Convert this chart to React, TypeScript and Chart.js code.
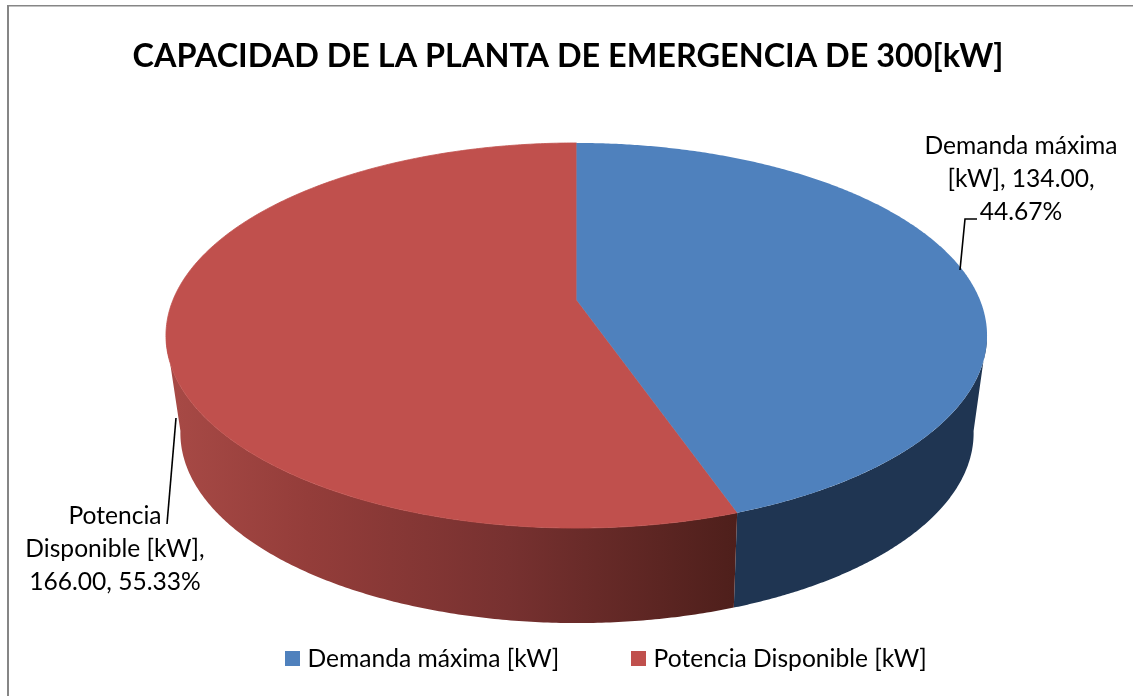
import React, { useEffect, useRef } from "react";
import { Chart, registerables } from "chart.js";

Chart.register(...registerables);

const categories = ["Demanda máxima [kW]", "Potencia Disponible [kW]"];
const values = [134, 166];
const topColors = ["#4F81BD", "#C0504D"];
const chartTitle = "CAPACIDAD DE LA PLANTA DE EMERGENCIA DE 300[kW]";
const FONT = "Lato, 'Open Sans', sans-serif";

// perspective of the top and bottom faces of the disc
const topFace = { x: 576.5, y: 300, a: 403.5, b: 186, k: 0.1844 };
const bottomFace = { x: 577, y: 396, a: 389, b: 182.8, k: 0.195 };

type Face = typeof topFace;
const project = (f: Face, ang: number) => {
  const u = Math.cos(ang);
  const v = Math.sin(ang);
  const w = 1 - f.k * v;
  return { x: f.x + (f.a * u) / w, y: f.y + (f.b * v) / w };
};

const labelOffsets = [
  { cx: 1021, baselines: [154, 187, 220], lines: (v: string, p: string) => ["Demanda máxima", `[kW], ${v},`, p], leader: [[960, 270], [965, 219], [977, 219]] },
  { cx: 115, baselines: [524, 557, 590], lines: (v: string, p: string) => ["Potencia", `Disponible [kW],`, `${v}, ${p}`], leader: [[176, 418], [167, 524]] },
];

const swatch = (color: string) => {
  const c = document.createElement("canvas");
  c.width = 15;
  c.height = 15;
  const g = c.getContext("2d")!;
  g.fillStyle = color;
  g.fillRect(0, 0, 15, 15);
  return c;
};

const discPlugin = {
  id: "disc3d",
  beforeDraw(chart: any) {
    const { ctx, width, height } = chart;
    ctx.save();
    ctx.fillStyle = "#FFFFFF";
    ctx.fillRect(0, 0, width, height);
    ctx.fillStyle = "#868686";
    ctx.fillRect(7, 5, 2, height - 5);
    ctx.fillRect(7, 5, width - 7, 1.5);
    ctx.restore();
  },
  afterLayout(chart: any) {
    const lg = chart.legend;
    if (lg) {
      lg.left += 41.5;
      lg.right += 41.5;
      lg.top -= 15;
      lg.bottom -= 15;
    }
    const t = chart.titleBlock;
    if (t) {
      t.left += 1.5;
      t.right += 1.5;
    }
  },
  beforeDatasetsDraw(chart: any) {
    const { ctx } = chart;
    const arcs = chart.getDatasetMeta(0).data;

    const redGrad = ctx.createLinearGradient(165, 0, 737, 0);
    redGrad.addColorStop(0, "#A84A46");
    redGrad.addColorStop(0.25, "#943D3A");
    redGrad.addColorStop(0.6, "#773130");
    redGrad.addColorStop(1, "#4E1F1B");
    const sideFills = ["#1F3552", redGrad];

    // side wall: only the part between the two silhouette angles shows
    const edge = Math.asin(topFace.k);
    arcs.forEach((arc: any, i: number) => {
      const start = Math.max(arc.startAngle, edge);
      const end = Math.min(arc.endAngle, Math.PI - edge);
      const n = 200;
      ctx.beginPath();
      for (let j = 0; j <= n; j++) {
        const p = project(topFace, start + ((end - start) * j) / n);
        j ? ctx.lineTo(p.x, p.y) : ctx.moveTo(p.x, p.y);
      }
      for (let j = n; j >= 0; j--) {
        const p = project(bottomFace, start + ((end - start) * j) / n);
        ctx.lineTo(p.x, p.y);
      }
      ctx.closePath();
      ctx.fillStyle = sideFills[i];
      ctx.fill();
    });

    // top face
    [1, 0].forEach((i) => {
      const arc = arcs[i];
      ctx.beginPath();
      ctx.moveTo(topFace.x, topFace.y);
      const n = 360;
      for (let j = 0; j <= n; j++) {
        const p = project(topFace, arc.startAngle + ((arc.endAngle - arc.startAngle) * j) / n);
        ctx.lineTo(p.x, p.y);
      }
      ctx.closePath();
      ctx.fillStyle = topColors[i];
      ctx.fill();
      if (i === 1) {
        ctx.strokeStyle = topColors[i];
        ctx.lineWidth = 0.8;
        ctx.stroke();
      }
    });

    // data labels
    const total = values.reduce((s, v) => s + v, 0);
    ctx.save();
    ctx.font = `24.6px ${FONT}`;
    ctx.fillStyle = "#000000";
    ctx.textAlign = "center";
    ctx.textBaseline = "alphabetic";
    labelOffsets.forEach((l, i) => {
      const txt = l.lines(values[i].toFixed(2), ((values[i] / total) * 100).toFixed(2) + "%");
      txt.forEach((s, j) => ctx.fillText(s, l.cx, l.baselines[j]));
      ctx.beginPath();
      l.leader.forEach((pt, j) => (j ? ctx.lineTo(pt[0], pt[1]) : ctx.moveTo(pt[0], pt[1])));
      ctx.strokeStyle = "#000000";
      ctx.lineWidth = 1.6;
      ctx.stroke();
    });
    ctx.restore();
    return false;
  },
};

export default function App() {
  const ref = useRef<HTMLCanvasElement>(null);
  useEffect(() => {
    if (!ref.current) return;
    const swatches = topColors.map(swatch);
    const defaultLabels = (Chart as any).overrides.doughnut.plugins.legend.labels.generateLabels;
    const chart = new Chart(ref.current, {
      type: "pie",
      data: {
        labels: categories,
        datasets: [{ data: values, backgroundColor: topColors, borderWidth: 0 }],
      },
      options: {
        responsive: false,
        animation: false,
        layout: { padding: 0 },
        plugins: {
          title: {
            display: true,
            text: chartTitle,
            color: "#000000",
            font: { family: FONT, size: 32.42, weight: "bold" },
            padding: { top: 37, bottom: 10 },
          },
          legend: {
            display: true,
            position: "bottom",
            labels: {
              usePointStyle: true,
              pointStyleWidth: 6,
              padding: 76,
              color: "#000000",
              font: { family: FONT, size: 24.6 },
              generateLabels: (c: any) =>
                defaultLabels(c).map((item: any, i: number) => ({ ...item, pointStyle: swatches[i] })),
            },
          },
          tooltip: { enabled: false },
        },
      },
      plugins: [discPlugin as any],
    } as any);
    return () => chart.destroy();
  }, []);
  return (
    <div style={{ position: "absolute", left: 0, top: 0, width: 1133, height: 696 }}>
      <canvas ref={ref} width={1133} height={696} style={{ display: "block" }} />
    </div>
  );
}
